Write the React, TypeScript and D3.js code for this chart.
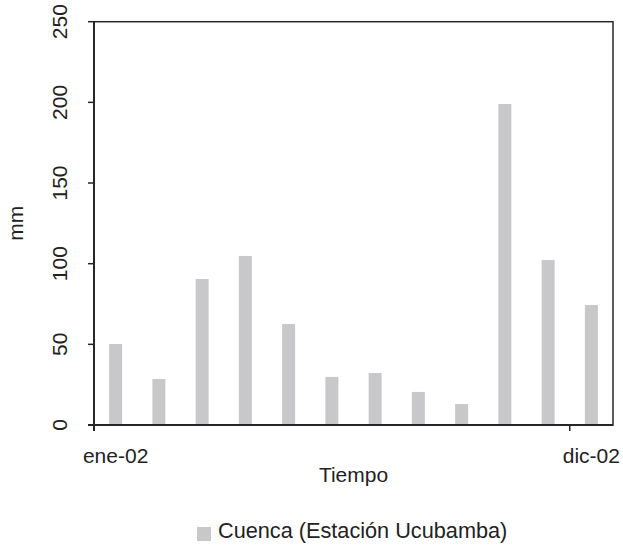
import React, { useEffect, useRef } from "react";
import * as d3 from "d3";

const months = ["ene", "feb", "mar", "abr", "may", "jun", "jul", "ago", "sep", "oct", "nov", "dic"];
const rainfall = [50.2, 28.5, 90.5, 104.8, 62.6, 29.8, 32.2, 20.5, 13, 199, 102.3, 74.4];
const yTicks = [0, 50, 100, 150, 200, 250];
const xTickMonths = ["ene", "dic"];
const xTickLabels = ["ene-02", "dic-02"];
const seriesName = "Cuenca (Estación Ucubamba)";

const W = 623;
const H = 546;
const L = 94, R = 613, T = 21.7, B = 425;
const FONT = "'Liberation Sans', Arial, sans-serif";
const BAR = "#c8c8ca";
const INK = "#262626";

export default function App() {
  const ref = useRef<SVGSVGElement>(null);
  useEffect(() => {
    document.body.style.margin = "0";
    const svg = d3.select(ref.current);
    svg.selectAll("*").remove();

    const x = d3.scaleBand<string>().domain(months).range([L, R]).paddingInner(0.7).paddingOuter(0.35);
    const y = d3.scaleLinear().domain([0, 250]).range([B, T]);
    const step = x.step();

    svg.append("rect").attr("width", W).attr("height", H).attr("fill", "#fff");

    svg.append("g").selectAll("rect").data(rainfall).join("rect")
      .attr("x", (_, i) => x(months[i])!)
      .attr("y", d => y(d))
      .attr("width", x.bandwidth())
      .attr("height", d => B - y(d))
      .attr("fill", BAR);

    // frame
    svg.append("rect").attr("x", L).attr("y", T).attr("width", R - L).attr("height", B - T)
      .attr("fill", "none").attr("stroke", INK).attr("stroke-width", 1.5);
    svg.append("line").attr("x1", L).attr("x2", L).attr("y1", T).attr("y2", B + 6)
      .attr("stroke", INK).attr("stroke-width", 2);
    svg.append("line").attr("x1", L - 6).attr("x2", R).attr("y1", B).attr("y2", B)
      .attr("stroke", INK).attr("stroke-width", 2);

    // y ticks
    const yg = svg.append("g");
    yTicks.forEach(t => {
      yg.append("line").attr("x1", L - 6).attr("x2", L).attr("y1", y(t)).attr("y2", y(t))
        .attr("stroke", INK).attr("stroke-width", 1.5);
      yg.append("text").attr("transform", `translate(66.5,${y(t)}) rotate(-90)`)
        .attr("text-anchor", "middle").attr("font-family", FONT).attr("font-size", 21)
        .attr("fill", "#222").text(String(t));
    });

    // x ticks
    xTickMonths.forEach((m, i) => {
      const tx = x(m)! - step * 0.35;
      svg.append("line").attr("x1", tx).attr("x2", tx).attr("y1", B).attr("y2", B + 6)
        .attr("stroke", INK).attr("stroke-width", 1.5);
      svg.append("text").attr("x", x(m)! + x.bandwidth() / 2).attr("y", 463)
        .attr("text-anchor", "middle").attr("font-family", FONT).attr("font-size", 21)
        .attr("fill", "#222").text(xTickLabels[i]);
    });

    svg.append("text").attr("x", (L + R) / 2).attr("y", 482).attr("text-anchor", "middle")
      .attr("font-family", FONT).attr("font-size", 21).attr("fill", "#222").text("Tiempo");
    svg.append("text").attr("transform", `translate(23,${(T + B) / 2}) rotate(-90)`)
      .attr("text-anchor", "middle").attr("font-family", FONT).attr("font-size", 21)
      .attr("fill", "#222").text("mm");

    // legend
    svg.append("rect").attr("x", 197).attr("y", 527).attr("width", 14).attr("height", 14).attr("fill", BAR);
    svg.append("text").attr("x", 218).attr("y", 538).attr("font-family", FONT).attr("font-size", 21.7)
      .attr("fill", "#222").text(seriesName);
  }, []);
  return <svg ref={ref} width={W} height={H} style={{ display: "block" }} />;
}
